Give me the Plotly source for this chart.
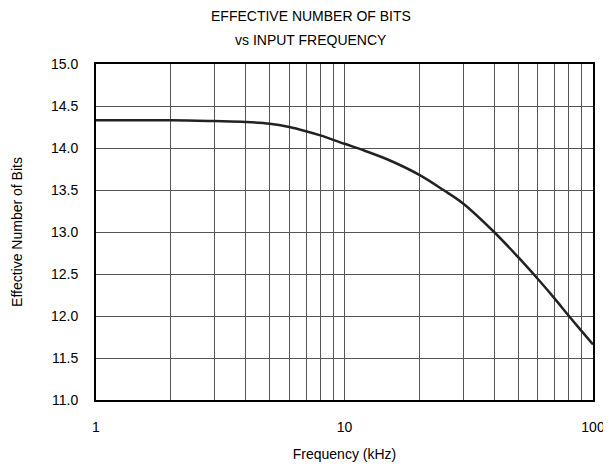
import plotly.graph_objects as go

freq_khz = [1, 2, 3, 4, 5, 6, 7, 8, 10, 12, 15, 20, 25, 30, 40, 50, 60, 70, 80, 90, 100]
enob = [14.33, 14.33, 14.32, 14.31, 14.29, 14.25, 14.20, 14.15, 14.05, 13.97, 13.86, 13.68, 13.50, 13.34, 13.00, 12.70, 12.44, 12.21, 12.00, 11.82, 11.66]

x_ticks = [1, 10, 100]
x_grid = [2, 3, 4, 5, 6, 7, 8, 9, 20, 30, 40, 50, 60, 70, 80, 90]
y_ticks = [11.0, 11.5, 12.0, 12.5, 13.0, 13.5, 14.0, 14.5, 15.0]
title_lines = ["EFFECTIVE NUMBER OF BITS", "vs INPUT FREQUENCY"]

fig = go.Figure()
fig.add_trace(go.Scatter(x=freq_khz, y=enob, mode="lines",
                         line=dict(color="#222222", width=2.5, shape="spline"),
                         showlegend=False))

font = "Liberation Sans, Arial, sans-serif"
plot_h = 336
plot_w = 497
for txt, off in zip(title_lines, [48, 24]):
    fig.add_annotation(text=txt, xref="paper", yref="paper", x=(311 - 96) / plot_w, y=1 + off / plot_h,
                       xanchor="center", yanchor="middle", showarrow=False,
                       font=dict(size=14, family=font, color="black"))

fig.update_layout(
    width=603, height=454,
    margin=dict(l=88, r=18, t=56, b=62, autoexpand=False),
    paper_bgcolor="white", plot_bgcolor="white",
    font=dict(family=font, size=14, color="black"),
    xaxis=dict(type="log", range=[0, 2], tickvals=x_ticks, ticktext=["1", "10", "100"],
               showgrid=True, gridcolor="#555555", gridwidth=1,
               minor=dict(tickvals=x_grid, showgrid=True, gridcolor="#555555", gridwidth=1, ticks=""),
               showline=True, linecolor="black", linewidth=2, mirror=True,
               ticks="", zeroline=False, ticklabelstandoff=13, automargin=False,
               ticklabeloverflow="allow",
               title=dict(text="Frequency (kHz)", font=dict(size=14), standoff=21)),
    yaxis=dict(range=[11, 15], tickvals=y_ticks, ticktext=[f"{v:.1f}" for v in y_ticks],
               showgrid=True, gridcolor="#555555", gridwidth=1,
               showline=True, linecolor="black", linewidth=2, mirror=True,
               ticks="", zeroline=False, ticklabelstandoff=13, automargin=False,
               title=dict(text="Effective Number of Bits", font=dict(size=14), standoff=25)),
)

fig.write_html("out.html")
